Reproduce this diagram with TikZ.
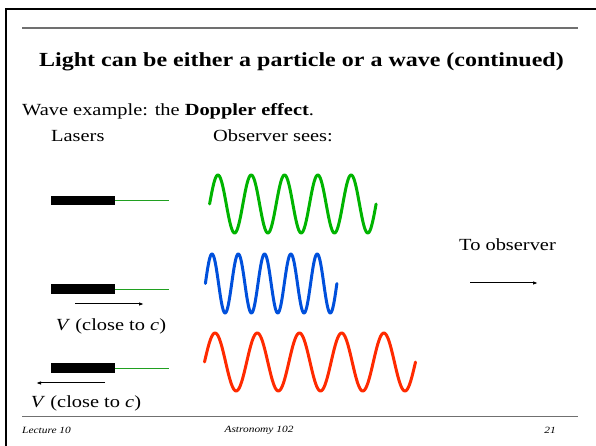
\documentclass[tikz,border=0pt]{standalone}
\usepackage{fontspec}
\setmainfont[FakeStretch=1.2]{Liberation Serif}
\usepackage{xcolor}
\usetikzlibrary{arrows.meta,positioning}
\definecolor{wavegreen}{HTML}{00B400}
\definecolor{waveblue}{HTML}{0050DC}
\definecolor{wavered}{HTML}{FF2A00}
\definecolor{beamgreen}{HTML}{20A020}
\definecolor{rulegray}{HTML}{707070}
\tikzset{
  laser/.style={
    fill=black,
    draw=none,
    minimum width=64pt,
    minimum height=9.5pt,
    inner sep=0pt
  },
  beam/.style={
    draw=beamgreen,
    line width=0.9pt
  },
  wave/.style={
    line width=3pt,
    line cap=round,
    line join=round
  },
  label/.style={
    font=\fontsize{17}{20}\selectfont,
    inner sep=0pt
  },
  footer/.style={
    font=\fontsize{9.5}{11}\selectfont\itshape,
    inner sep=0pt
  },
  arrow/.style={
    -{Latex[length=5pt,width=3.5pt]},
    line width=1pt
  }
}

\begin{document}
\begin{tikzpicture}[x=1pt,y=1pt]

\useasboundingbox (0,0) rectangle (596,446);
\fill[white] (0,0) rectangle (596,446);

% slide frame and rules
\draw[line width=2pt] (5.5,0) -- (5.5,437) -- (596,437);
\draw[rulegray, line width=1.2pt] (22,418) -- (578,418);
\draw[rulegray, line width=1.2pt] (22,29.5) -- (578,29.5);

\node[font=\fontsize{20}{24}\selectfont\bfseries, inner sep=0pt, anchor=base] (title) at (301.5,379)
  {Light can be either a particle or a wave (continued)};
\node[label, anchor=base west] (intro) at (22,330) {Wave example: the \textbf{Doppler effect}.};
\node[label, anchor=base west] (lasers) at (51,304) {Lasers};
\node[label, anchor=base west] (sees) at (213,304) {Observer sees:};
\node[label, anchor=east] (toobs) at (556,201) {To observer};

% lasers and beams
\node[laser] (laser1) at (83,245.25) {};
\node[laser] (laser2) at (83,157) {};
\node[laser] (laser3) at (83,78) {};
\coordinate (beam1) at (169,245.25);
\coordinate (beam2) at (169,157);
\coordinate (beam3) at (169,78);
\draw[beam] (laser1.east) -- (beam1);
\draw[beam] (laser2.east) -- (beam2);
\draw[beam] (laser3.east) -- (beam3);

% velocities
\coordinate (v2a) at (75,142);
\coordinate (v2b) at (144,142);
\draw[arrow] (v2a) -- (v2b);
\node[label, anchor=base] (vel2) at (111,115) {\textit{V} (close to \textit{c})};
\coordinate (v3a) at (105,63);
\coordinate (v3b) at (36,63);
\draw[arrow] (v3a) -- (v3b);
\node[label, anchor=base] (vel3) at (86,38) {\textit{V} (close to \textit{c})};

\coordinate (obsa) at (470,163);
\coordinate (obsb) at (538,163);
\draw[arrow] (obsa) -- (obsb);

% waves
\draw[wave, wavegreen] plot[domain=0:5, samples=240, smooth] ({209.6+33.3*\x},{242+29*sin(360*\x)});
\draw[wave, waveblue] plot[domain=0:5, samples=240, smooth] ({205.4+26.3*\x},{162.5+29.5*sin(360*\x)});
\draw[wave, wavered] plot[domain=0:5, samples=240, smooth] ({204.5+42.2*\x},{84+29*sin(360*\x)});

% footer
\node[footer, anchor=west] (lecture) at (22,16) {Lecture 10};
\node[footer] (course) at (259,16) {Astronomy 102};
\node[footer, anchor=east] (page) at (556,16) {21};

\end{tikzpicture}
\end{document}
